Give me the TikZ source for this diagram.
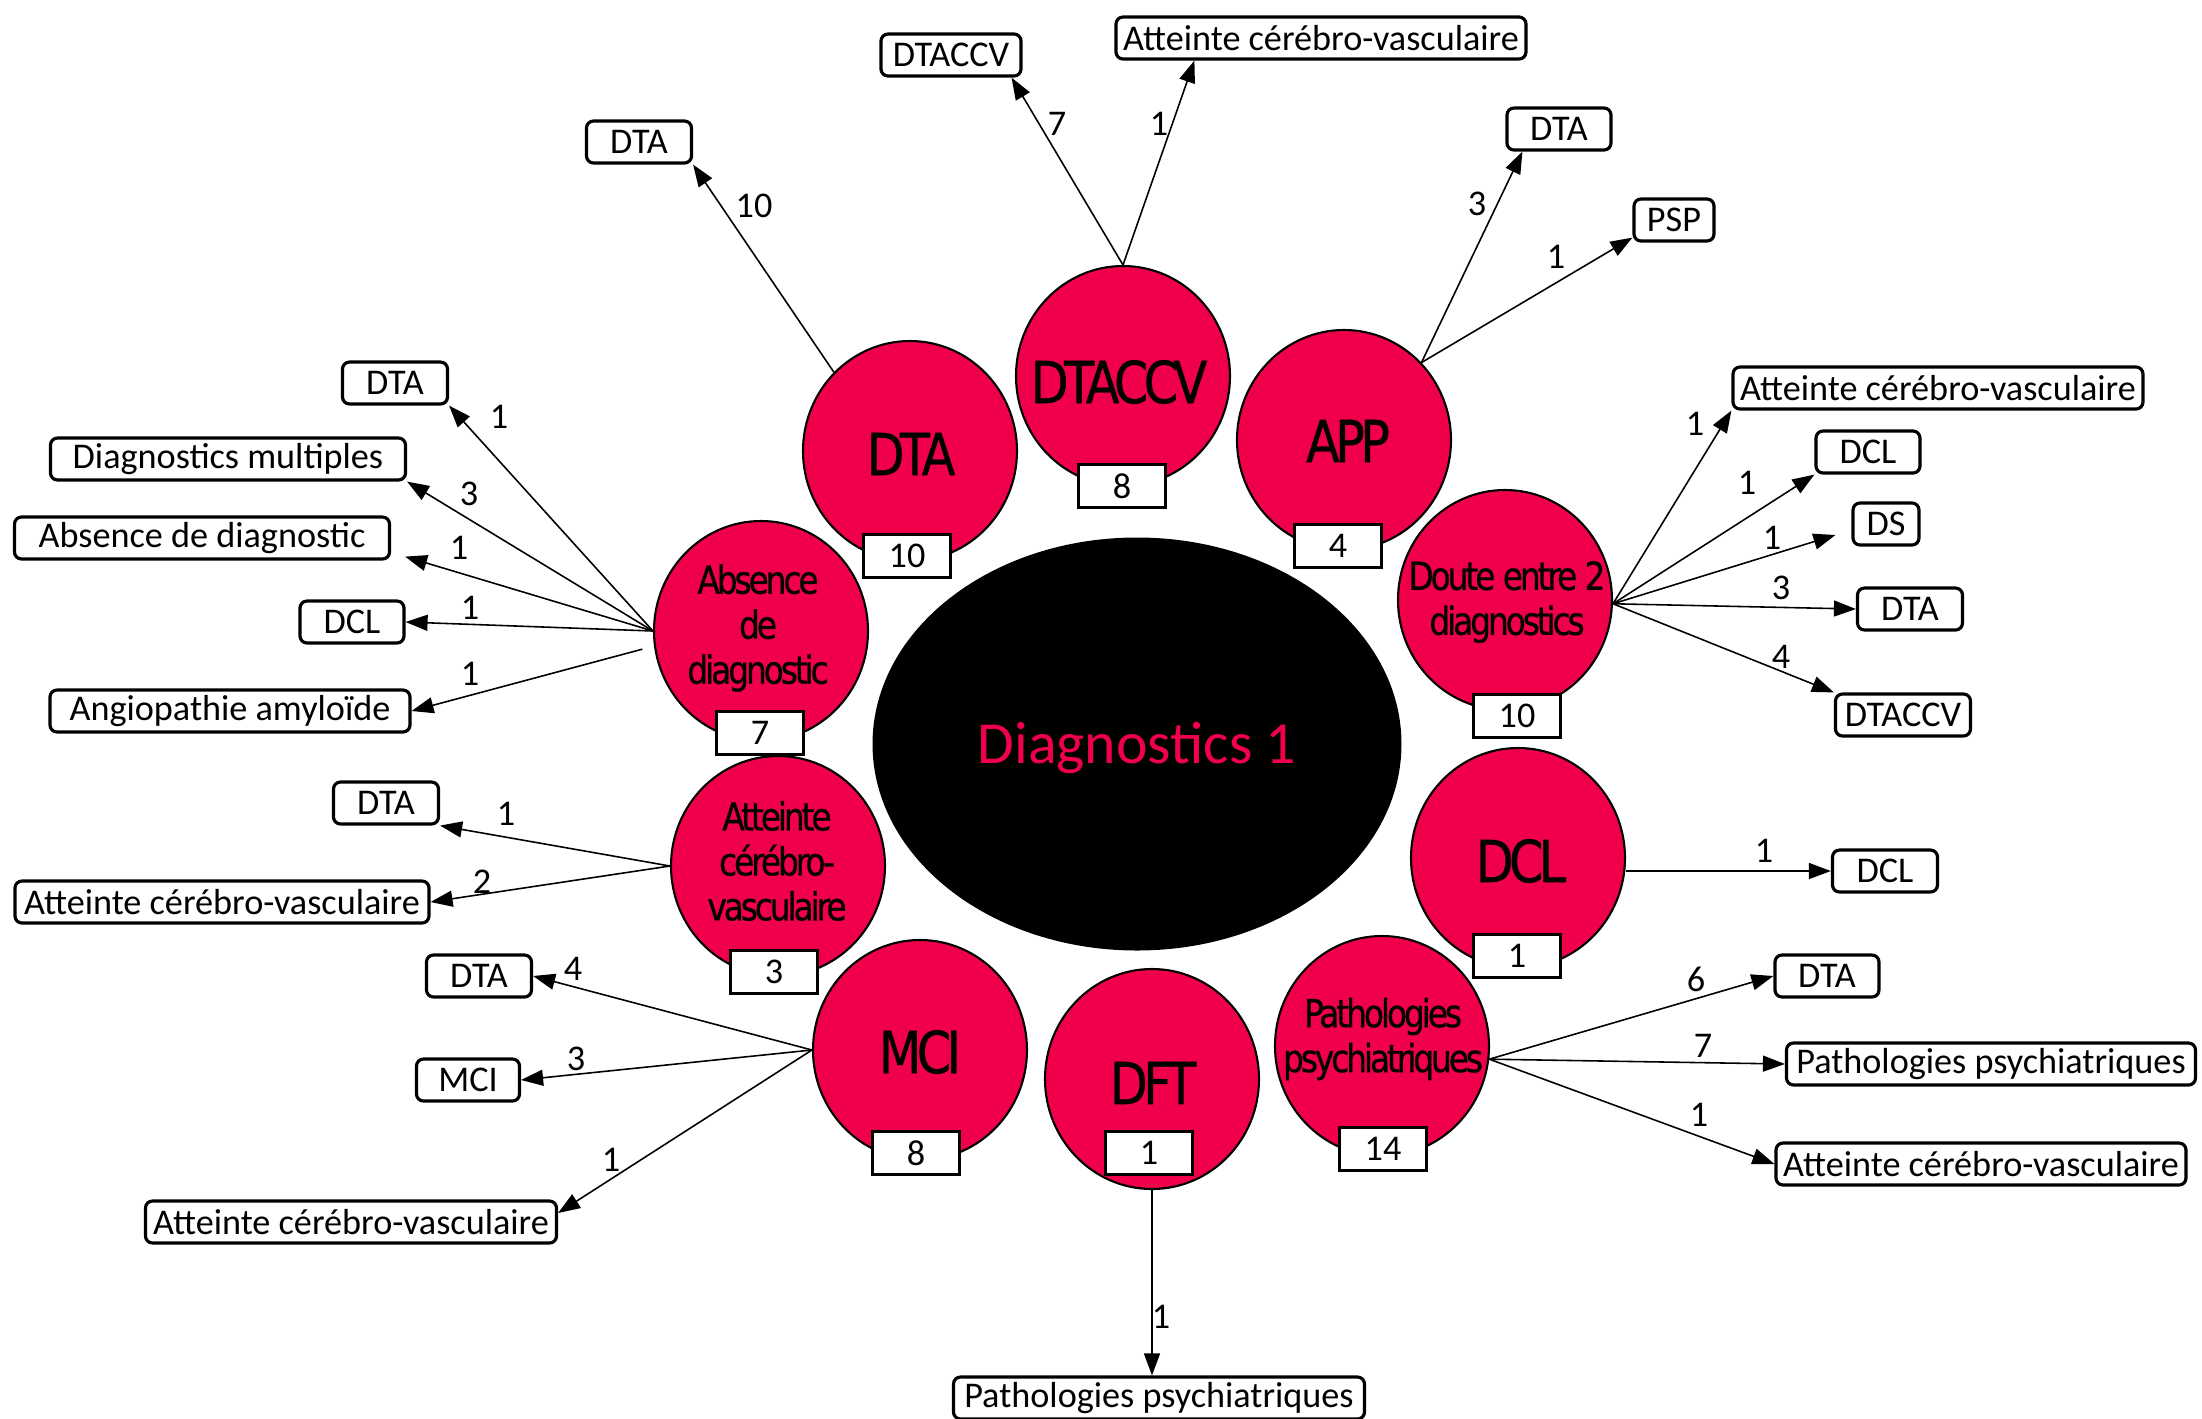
\documentclass[tikz,border=0pt]{standalone}
\usepackage{fontspec}
\setmainfont{Carlito}
\newfontfamily\circfont{DejaVu Sans}[FakeStretch=0.85,LetterSpace=-8,FakeBold=0.6]
\usetikzlibrary{shapes.geometric,arrows.meta}
\definecolor{crimson}{RGB}{240,0,75}

\begin{document}
\begin{tikzpicture}[x=0.1mm,y=-0.1mm,
  circ/.style={ellipse,draw,line width=0.6pt,fill=crimson,minimum width=21.4mm,minimum height=22mm,inner sep=0pt},
  bigname/.style={font=\circfont\fontsize{16.5}{18}\selectfont,inner sep=0pt},
  smallname/.style={font=\circfont\fontsize{11}{12.8}\selectfont,align=center,inner sep=0pt},
  count/.style={draw,fill=white,line width=0.7pt,minimum width=8.7mm,minimum height=4.3mm,inner sep=0pt,font=\fontsize{10.3}{12}\selectfont},
  outbox/.style={draw,fill=white,rounded corners=0.7mm,line width=0.9pt,minimum height=4.2mm,inner sep=0pt,font=\fontsize{10.3}{12}\selectfont},
  arr/.style={-{Triangle[length=2.2mm,width=1.6mm]},line width=0.45pt},
  lbl/.style={inner sep=0pt,font=\fontsize{10.3}{12}\selectfont}]

\fill[white] (0,0) rectangle (2202,1418);
\useasboundingbox (0,0) rectangle (2202,1418);

% central node
\node[ellipse,fill=black,minimum width=52.9mm,minimum height=41.3mm,inner sep=0pt] (center) at (1137,744) {};
\node[text=crimson,font=\fontsize{17}{20}\selectfont,inner sep=0pt] (ctitle) at (1137,748) {Diagnostics 1};

% diagnosis circles
\node[circ] (cDTA)    at (910,451)  {};
\node[circ] (cDTACCV) at (1123,376) {};
\node[circ] (cAPP)    at (1344,440) {};
\node[circ] (cDoute)  at (1505,600) {};
\node[circ] (cDCL)    at (1518,858) {};
\node[circ] (cPatho)  at (1382,1046) {};
\node[circ] (cDFT)    at (1152,1079) {};
\node[circ] (cMCI)    at (920,1050) {};
\node[circ] (cACV)    at (778,866)  {};
\node[circ] (cAbs)    at (761,631)  {};

% circle names
\node[bigname] (tDTA)    at (911,454)  {DTA};
\node[bigname] (tDTACCV) at (1119,382) {DTACCV};
\node[bigname] (tAPP)    at (1348,441) {APP};
\node[smallname] (tDoute) at (1507,602) {Doute entre 2\\diagnostics};
\node[bigname] (tDCL)    at (1521,861) {DCL};
\node[smallname] (tPatho) at (1383,1039) {Pathologies\\psychiatriques};
\node[bigname] (tDFT)    at (1153,1083) {DFT};
\node[bigname] (tMCI)    at (920,1052) {MCI};
\node[smallname] (tACV)  at (777,861)  {Atteinte\\cérébro-\\vasculaire};
\node[smallname] (tAbs)  at (758,628)  {Absence\\de\\diagnostic};

% counts
\node[count] (nDTA)    at (907,556)  {10};
\node[count] (nDTACCV) at (1122,486) {8};
\node[count] (nAPP)    at (1338,546) {4};
\node[count] (nDoute)  at (1517,716) {10};
\node[count] (nDCL)    at (1517,956) {1};
\node[count] (nPatho)  at (1383,1149) {14};
\node[count] (nDFT)    at (1149,1153) {1};
\node[count] (nMCI)    at (916,1153) {8};
\node[count] (nACV)    at (774,972)  {3};
\node[count] (nAbs)    at (760,733)  {7};

% outcome boxes: top
\node[outbox,minimum width=10.5mm] (oDTAa)    at (639,142)  {DTA};
\node[outbox,minimum width=14mm]   (oDTACCVt) at (951,55)   {DTACCV};
\node[outbox,minimum width=41mm]   (oACVt)    at (1321,38)  {Atteinte cérébro-vasculaire};
\node[outbox,minimum width=10.4mm] (oDTAb)    at (1559,129) {DTA};
\node[outbox,minimum width=8mm]    (oPSP)     at (1674,220) {PSP};
% right
\node[outbox,minimum width=41mm]   (oACVr)    at (1938,388) {Atteinte cérébro-vasculaire};
\node[outbox,minimum width=10.4mm] (oDCLr1)   at (1868,452) {DCL};
\node[outbox,minimum width=6.6mm]  (oDS)      at (1886,524) {DS};
\node[outbox,minimum width=10.5mm] (oDTAr)    at (1910,609) {DTA};
\node[outbox,minimum width=13.5mm] (oDTACCVr) at (1903,715) {DTACCV};
\node[outbox,minimum width=10.5mm] (oDCLr2)   at (1885,871) {DCL};
\node[outbox,minimum width=10.4mm] (oDTAr2)   at (1827,976) {DTA};
\node[outbox,minimum width=40.9mm] (oPPr)     at (1991,1064) {Pathologies psychiatriques};
\node[outbox,minimum width=41mm]   (oACVr2)   at (1981,1164) {Atteinte cérébro-vasculaire};
% bottom
\node[outbox,minimum width=41.1mm] (oPPb)     at (1159,1398) {Pathologies psychiatriques};
% left
\node[outbox,minimum width=10.5mm] (oDTAl1)   at (395,383)  {DTA};
\node[outbox,minimum width=35.5mm] (oDM)      at (228,459)  {Diagnostics multiples};
\node[outbox,minimum width=37.5mm] (oAD)      at (202,538)  {Absence de diagnostic};
\node[outbox,minimum width=10.4mm] (oDCLl)    at (352,622)  {DCL};
\node[outbox,minimum width=36mm]   (oAA)      at (230,711)  {Angiopathie amyloïde};
\node[outbox,minimum width=10.5mm] (oDTAl2)   at (386,803)  {DTA};
\node[outbox,minimum width=41.4mm] (oACVl)    at (222,902)  {Atteinte cérébro-vasculaire};
\node[outbox,minimum width=10.5mm] (oDTAl3)   at (479,976)  {DTA};
\node[outbox,minimum width=10.3mm] (oMCIl)    at (468,1080) {MCI};
\node[outbox,minimum width=41.1mm] (oACVl2)   at (351,1222) {Atteinte cérébro-vasculaire};

% connectors
\draw[arr] (cDTA.134) -- (oDTAa.south east);
\draw[arr] (cDTACCV.north) -- ([xshift=-1.1mm]oDTACCVt.south east);
\draw[arr] (cDTACCV.north) -- ([xshift=8mm]oACVt.south west);
\draw[arr] (cAPP.45) -- ([xshift=1.7mm]oDTAb.south west);
\draw[arr] (cAPP.45) -- ([yshift=0.5mm]oPSP.south west);
\draw[arr] (cDoute.-2) -- (oACVr.south west);
\draw[arr] (cDoute.-2) -- (oDCLr1.south west);
\draw[arr] (cDoute.-2) -- ([xshift=-1.6mm,yshift=-1.1mm]oDS.west);
\draw[arr] (cDoute.-2) -- (oDTAr.west);
\draw[arr] (cDoute.-2) -- (oDTACCVr.north west);
\draw[arr] (cDCL.east |- oDCLr2.west) -- (oDCLr2.west);
\draw[arr] (cPatho.-7) -- (oDTAr2.west);
\draw[arr] (cPatho.-7) -- (oPPr.west);
\draw[arr] (cPatho.-7) -- (oACVr2.west);
\draw[arr] (cDFT.south) -- (cDFT.south |- oPPb.north);
\draw[arr] (cMCI.west) -- (oDTAl3.east);
\draw[arr] (cMCI.west) -- (oMCIl.east);
\draw[arr] (cMCI.west) -- ([yshift=0.9mm]oACVl2.east);
\draw[arr] (cACV.west) -- (oDTAl2.south east);
\draw[arr] (cACV.west) -- (oACVl.east);
\draw[arr] (cAbs.west) -- (oDTAl1.south east);
\draw[arr] (cAbs.west) -- (oDM.south east);
\draw[arr] (cAbs.west) -- ([xshift=1.4mm,yshift=0.4mm]oAD.south east);
\draw[arr] (cAbs.west) -- (oDCLl.east);
\draw[arr,shorten <=1.2mm] (cAbs.188) -- (oAA.east);

% connector counts
\node[lbl] (l1)  at (754,206)  {10};
\node[lbl] (l2)  at (1057,124) {7};
\node[lbl] (l3)  at (1159,124) {1};
\node[lbl] (l4)  at (1477,204) {3};
\node[lbl] (l5)  at (1556,257) {1};
\node[lbl] (l6)  at (1695,424) {1};
\node[lbl] (l7)  at (1747,483) {1};
\node[lbl] (l8)  at (1772,538) {1};
\node[lbl] (l9)  at (1781,588) {3};
\node[lbl] (l10) at (1781,657) {4};
\node[lbl] (l11) at (1764,851) {1};
\node[lbl] (l12) at (1696,979) {6};
\node[lbl] (l13) at (1703,1046) {7};
\node[lbl] (l14) at (1699,1115) {1};
\node[lbl] (l15) at (1161,1317) {1};
\node[lbl] (l16) at (573,969)  {4};
\node[lbl] (l17) at (576,1059) {3};
\node[lbl] (l18) at (611,1160) {1};
\node[lbl] (l19) at (506,814)  {1};
\node[lbl] (l20) at (482,882)  {2};
\node[lbl] (l21) at (499,417)  {1};
\node[lbl] (l22) at (469,494)  {3};
\node[lbl] (l23) at (459,548)  {1};
\node[lbl] (l24) at (470,608)  {1};
\node[lbl] (l25) at (470,674)  {1};
\end{tikzpicture}
\end{document}
